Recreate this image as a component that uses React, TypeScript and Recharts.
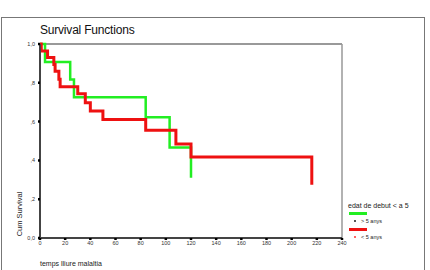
import { Line, LineChart, ReferenceLine, XAxis, YAxis } from "recharts";

// Kaplan-Meier steps: [time, cum survival]
const overFiveTimes = [0, 4, 24, 27, 84, 103, 120];
const overFiveSurvival = [1, 0.907, 0.817, 0.726, 0.622, 0.466, 0.311];

const underFiveTimes = [0, 1, 6, 11, 12, 15, 16, 30, 36, 40, 50, 84, 108, 120, 216];
const underFiveSurvival = [
  1, 0.964, 0.93, 0.894, 0.86, 0.818, 0.779, 0.743, 0.697, 0.654, 0.611, 0.556, 0.485,
  0.418, 0.274,
];

const xTicks = [0, 20, 40, 60, 80, 100, 120, 140, 160, 180, 200, 220, 240];
const yTicks = [0, 0.2, 0.4, 0.6, 0.8, 1];
const yTickLabels = ["0,0", ",2", ",4", ",6", ",8", "1,0"];

const GREEN = "#22ee22";
const RED = "#ee1111";
const FONT = "'Liberation Sans', Arial, sans-serif";

const overFive = overFiveTimes.map((t, i) => ({ t, s: overFiveSurvival[i] }));
const underFive = underFiveTimes.map((t, i) => ({ t, s: underFiveSurvival[i] }));

function LegendBox() {
  const row = { display: "flex", alignItems: "center", height: 8 } as const;
  return (
    <div
      style={{
        position: "absolute",
        left: 348,
        top: 202,
        fontFamily: FONT,
        fontSize: 7,
        color: "#222",
        lineHeight: "8px",
      }}
    >
      <div>edat de debut &lt; a 5</div>
      <div style={{ width: 18, height: 3, background: GREEN, margin: "2px 0 2px 1px" }} />
      <div style={row}>
        <span style={{ width: 2, height: 2, background: "#555", marginLeft: 6, marginRight: 5 }} />
        <span style={{ fontSize: 5.5 }}>&gt; 5 anys</span>
      </div>
      <div style={{ width: 18, height: 3, background: RED, margin: "3px 0 2px 1px" }} />
      <div style={row}>
        <span style={{ width: 2, height: 2, background: "#f66", marginLeft: 6, marginRight: 5 }} />
        <span style={{ fontSize: 5.5 }}>&lt; 5 anys</span>
      </div>
    </div>
  );
}

export default function App() {
  return (
    <div
      style={{
        position: "absolute",
        left: 0,
        top: 0,
        width: 430,
        height: 270,
        overflow: "hidden",
        background: "#fff",
        fontFamily: FONT,
      }}
    >
      <div
        style={{
          position: "absolute",
          left: 1,
          top: 17,
          width: 422,
          height: 280,
          border: "1px solid #777",
        }}
      />
      <div
        style={{
          position: "absolute",
          left: 40,
          top: 24,
          fontSize: 12,
          color: "#111",
          letterSpacing: -0.2,
          lineHeight: "13px",
        }}
      >
        Survival Functions
      </div>
      <div
        style={{
          position: "absolute",
          left: 40,
          top: 260,
          fontSize: 7,
          color: "#222",
        }}
      >
        temps lliure malaltia
      </div>
      <div style={{ position: "absolute", left: 0, top: 0 }}>
        <LineChart
          width={430}
          height={270}
          margin={{ top: 44, right: 88, left: 0, bottom: 0 }}
        >
          <XAxis
            type="number"
            dataKey="t"
            domain={[0, 240]}
            ticks={xTicks}
            height={32}
            axisLine={{ stroke: "#444", strokeWidth: 2 }}
            tickLine={{ stroke: "#000", strokeWidth: 2.5 }}
            tickSize={2}
            tickMargin={1}
            tick={{ fontSize: 5.5, fill: "#333", fontFamily: FONT }}
            interval={0}
          />
          <YAxis
            type="number"
            domain={[0, 1]}
            ticks={yTicks}
            width={40}
            axisLine={{ stroke: "#444", strokeWidth: 2 }}
            tickLine={{ stroke: "#000", strokeWidth: 2.5 }}
            tickSize={2}
            tickMargin={3}
            tick={{ fontSize: 5.5, fill: "#333", fontFamily: FONT }}
            tickFormatter={(v: number) => yTickLabels[yTicks.indexOf(v)] ?? ""}
            interval={0}
          />
          <ReferenceLine y={1} stroke="#777" strokeWidth={1.5} />
          <ReferenceLine x={240} stroke="#999" strokeWidth={1.5} />
          <Line
            data={overFive}
            dataKey="s"
            type="stepAfter"
            stroke={GREEN}
            strokeWidth={2.5}
            dot={false}
            isAnimationActive={false}
          />
          <Line
            data={underFive}
            dataKey="s"
            type="stepAfter"
            stroke={RED}
            strokeWidth={3}
            dot={false}
            isAnimationActive={false}
          />
        </LineChart>
      </div>
      <div
        style={{
          position: "absolute",
          left: 19,
          top: 214,
          transform: "translate(-50%, -50%) rotate(-90deg)",
          fontSize: 7.5,
          color: "#222",
          whiteSpace: "nowrap",
        }}
      >
        Cum Survival
      </div>
      <LegendBox />
    </div>
  );
}
